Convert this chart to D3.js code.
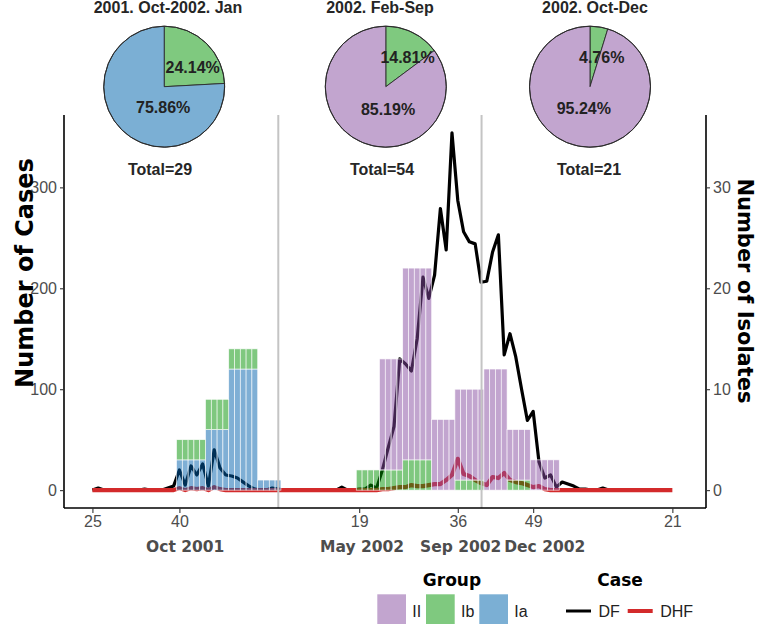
<!DOCTYPE html>
<html><head><meta charset="utf-8">
<script src="https://cdn.jsdelivr.net/npm/d3@7"></script>
<style>body{margin:0;background:#fff}svg{display:block}</style>
</head><body>
<svg id="c" width="757" height="624"></svg>
<script>
// ---------- DATA ----------
// weekly index: 0 = week 25 of 2001 ... 100 = week 21 of 2003
const dfCases = [0,2,0,0,0,0,0,0,0,1,0,0,0,2,4,
  20,5,24,15,26,4,40,22,15,14,12,8,4,1,0,0,2,1,
  0,0,0,0,0,0,0,0,0,0,3,0,0,
  1,1,5,2,20,42,63,130,125,118,150,211,190,213,279,238,354,287,256,246,244,
  206,207,236,253,134,155,132,100,69,78,28,12,15,3,8,6,4,1,1,0,0,2,
  0,0,0,0,0,0,0,0,0,0,0];
const dhfCases = [0,0,0,0,0,0,0,0,0,0,0,0,0,0,0,
  2,0,2,1,2,0,3,1,0,0,0,0,0,0,0,0,0,0,
  0,0,0,0,0,0,0,0,0,0,0,0,0,
  0,0,0,0,1,1,2,3,3,5,4,4,5,6,6,10,15,31,16,14,10,7,
  5,13,12,17,10,8,7,5,3,4,1,0,0,0,0,0,0,0,0,0,0,0,
  0,0,0,0,0,0,0,0,0,0,0];

// monthly isolate counts, repeated over each week of the month
const isoMonths   = ["Oct 2001","Nov 2001","Dec 2001","Jan 2002","May 2002","Jun 2002","Jul 2002","Aug 2002","Sep 2002","Oct 2002","Nov 2002","Dec 2002"];
const isoFirstWeek = [15,20,24,29,46,50,54,59,63,68,72,76];
const isoLastWeek  = [19,23,28,32,49,53,58,62,67,71,75,80];
const isoIa = [3,6,12,1,0,0,0,0,0,0,0,0];
const isoIb = [2,3,2,0,2,2,3,0,1,0,1,0];
const isoII = [0,0,0,0,0,11,19,7,9,12,5,3];

const groups = ["II","Ib","Ia"];
const cases = ["DF","DHF"];

const weekTickIdx = [0,15,46,63,76,100];
const weekTickLabels = ["25","40","19","36","49","21"];
const monthLabelIdx = [16,46.5,63.5,78];
const monthLabels = ["Oct 2001","May 2002","Sep 2002","Dec 2002"];
const periodBreaks = [32.05,67.1];

const leftTicks = [0,100,200,300];
const rightTicks = [0,10,20,30];

const pieTitles = ["2001. Oct-2002. Jan","2002. Feb-Sep","2002. Oct-Dec"];
const pieTotals = [29,54,21];
const pieIb = [24.14,14.81,4.76];
const pieRest = [75.86,85.19,95.24];
const pieRestGroup = ["Ia","II","II"];

// ---------- STYLE / LAYOUT ----------
const barBase = {II:"#854b9f", Ib:"#009100", Ia:"#005fab"};
const solid = {II:"#c2a5cf", Ib:"#7fc97f", Ia:"#7bafd4"};
const lineCol = {DF:"#000000", DHF:"#d32a2b"};
const P = {l:64, r:706, t:115, b:508};
const pieCx = [164.2,385.8,590], pieCy = 86.7, pieR = 60.5;
const titleCx = [168,380,595], totalCx = [160,382,589];
const lblIb = [[28.5,-14],[21.7,-23.4],[11.7,-23.7]];
const lblRest = [[-1,26.6],[2.2,28.3],[-6.2,27.3]];

const svg = d3.select("#c");
const x = d3.scaleLinear().domain([-4.9,105.8]).range([P.l,P.r]);
const y = d3.scaleLinear().domain([-17.7,371.7]).range([P.b,P.t]);
const yIso = d3.scaleLinear().domain([-1.77,37.17]).range([P.b,P.t]);
const step = x(1)-x(0);

// lines
const line = d3.line().x((d,i)=>x(i)).y(d=>y(d)).curve(d3.curveLinear);
svg.append("path").attr("d",line(dfCases)).attr("fill","none")
  .attr("stroke",lineCol.DF).attr("stroke-width",3.2).attr("stroke-linejoin","round");
svg.append("path").attr("d",line(dhfCases)).attr("fill","none")
  .attr("stroke",lineCol.DHF).attr("stroke-width",4.2).attr("stroke-linejoin","round");

// bars (stacked: Ia bottom, Ib, II top) - one per week
const weekRows = [];
isoMonths.forEach((m,k)=>{
  for(let w=isoFirstWeek[k]; w<=isoLastWeek[k]; w++){
    weekRows.push({w, Ia:isoIa[k], Ib:isoIb[k], II:isoII[k]});
  }
});
const stack = d3.stack().keys(["Ia","Ib","II"])(weekRows);
stack.forEach(layer=>{
  svg.append("g").selectAll("rect").data(layer.filter(d=>d[1]>d[0])).join("rect")
    .attr("x",d=>x(d.data.w)-step/2).attr("width",step)
    .attr("y",d=>yIso(d[1])).attr("height",d=>yIso(d[0])-yIso(d[1]))
    .attr("fill",barBase[layer.key]).attr("fill-opacity",0.5)
    .attr("stroke","#fff").attr("stroke-width",0.7).attr("stroke-opacity",0.85);
});

// vertical period breaks
svg.append("g").selectAll("line").data(periodBreaks).join("line")
  .attr("x1",d=>x(d)).attr("x2",d=>x(d)).attr("y1",P.t).attr("y2",P.b)
  .attr("stroke","#c4c4c4").attr("stroke-width",2);

// axes
const tickFont = "'Liberation Sans', Arial, sans-serif";
const axL = svg.append("g").attr("transform",`translate(${P.l},0)`)
  .call(d3.axisLeft(y).tickValues(leftTicks).tickSize(4).tickPadding(3));
const axR = svg.append("g").attr("transform",`translate(${P.r},0)`)
  .call(d3.axisRight(yIso).tickValues(rightTicks).tickSize(4).tickPadding(3));
const axB = svg.append("g").attr("transform",`translate(0,${P.b})`)
  .call(d3.axisBottom(x).tickValues(weekTickIdx).tickFormat((d,i)=>weekTickLabels[i]).tickSize(5).tickPadding(3));
[axL,axR,axB].forEach(a=>{
  a.select(".domain").attr("stroke","#000").attr("stroke-width",1.6);
  a.selectAll(".tick line").attr("stroke","#333").attr("stroke-width",1.1);
  a.selectAll(".tick text").attr("fill","#4d4d4d").style("font-family",tickFont).style("font-size","16px");
});
axL.select(".domain").attr("d",`M0,${P.t}V${P.b}`);
axR.select(".domain").attr("d",`M0,${P.t}V${P.b}`);
axB.select(".domain").attr("d",`M${P.l},0H${P.r}`);

// month labels
svg.append("g").selectAll("text").data(monthLabels).join("text")
  .attr("x",(d,i)=>x(monthLabelIdx[i])).attr("y",552).attr("text-anchor","middle")
  .style("font-family","'DejaVu Sans', sans-serif").style("font-weight","bold").style("font-size","15.5px")
  .attr("fill","#4d4d4d").text(d=>d);

// axis titles
const heavy = "'DejaVu Sans', sans-serif";
svg.append("text").attr("transform","translate(33,273) rotate(-90)").attr("text-anchor","middle")
  .style("font-family",heavy).style("font-weight","bold").style("font-size","24px").text("Number of Cases");
svg.append("text").attr("transform","translate(738,291) rotate(90)").attr("text-anchor","middle")
  .style("font-family",heavy).style("font-weight","bold").style("font-size","21px").text("Number of Isolates");

// pies
const pie = d3.pie().sort(null).value(d=>d.v);
const arc = d3.arc().innerRadius(0).outerRadius(pieR);
pieTitles.forEach((t,i)=>{
  const g = svg.append("g").attr("transform",`translate(${pieCx[i]},${pieCy})`);
  const data = [{g:"Ib",v:pieIb[i]},{g:pieRestGroup[i],v:pieRest[i]}];
  g.selectAll("path").data(pie(data)).join("path").attr("d",arc)
    .attr("fill",d=>solid[d.data.g]).attr("stroke","#2b2b2b").attr("stroke-width",0.9);
  g.append("circle").attr("r",pieR).attr("fill","none").attr("stroke","#2b2b2b").attr("stroke-width",1);
  const lf = sel=>sel.attr("text-anchor","middle").style("font-family",tickFont).style("font-weight","bold").style("font-size","16px").attr("fill","#222");
  g.append("text").attr("x",lblIb[i][0]).attr("y",lblIb[i][1]).text(pieIb[i].toFixed(2)+"%").call(lf);
  g.append("text").attr("x",lblRest[i][0]).attr("y",lblRest[i][1]).text(pieRest[i].toFixed(2)+"%").call(lf);
  svg.append("text").attr("x",titleCx[i]).attr("y",13.3).text(t).call(lf).attr("fill","#262626");
  svg.append("text").attr("x",totalCx[i]).attr("y",175).text("Total="+pieTotals[i]).call(lf).attr("fill","#262626");
});

// legend
const lg = svg.append("g");
lg.append("text").attr("x",452).attr("y",586).attr("text-anchor","middle")
  .style("font-family",heavy).style("font-weight","bold").style("font-size","17px").text("Group");
lg.append("text").attr("x",620).attr("y",586).attr("text-anchor","middle")
  .style("font-family",heavy).style("font-weight","bold").style("font-size","17px").text("Case");
const keyX = [377.3,426,479.3];
groups.forEach((gname,i)=>{
  lg.append("rect").attr("x",keyX[i]).attr("y",594.3).attr("width",28.7).attr("height",30)
    .attr("fill",solid[gname]);
  lg.append("text").attr("x",keyX[i]+35).attr("y",617).style("font-family",tickFont).style("font-size","16px")
    .attr("fill","#222").text(gname);
});
const lkX = [566,627.7];
cases.forEach((c,i)=>{
  lg.append("line").attr("x1",lkX[i]).attr("x2",lkX[i]+25).attr("y1",611).attr("y2",611)
    .attr("stroke",lineCol[c]).attr("stroke-width",c==="DF"?3:4);
  lg.append("text").attr("x",lkX[i]+32.5).attr("y",617).style("font-family",tickFont).style("font-size","16px")
    .attr("fill","#222").text(c);
});
</script>
</body></html>
